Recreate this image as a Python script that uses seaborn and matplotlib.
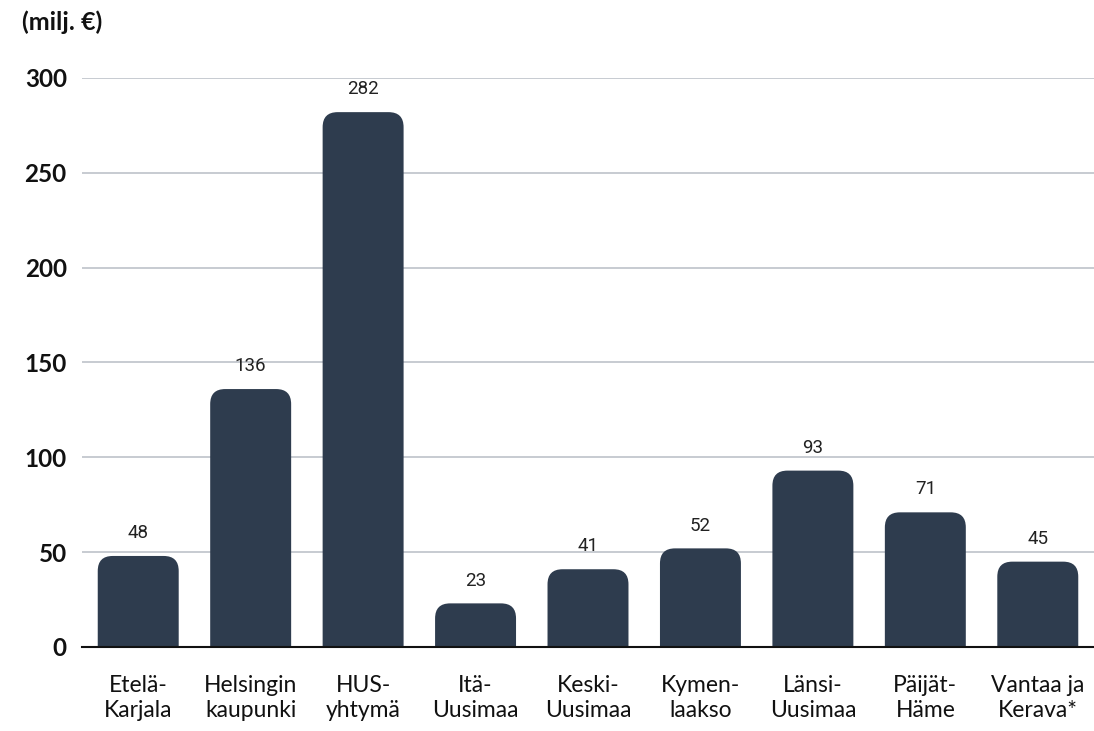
import matplotlib
matplotlib.use("Agg")
import matplotlib.pyplot as plt
from matplotlib.patches import FancyBboxPatch
import seaborn as sns
import pandas as pd

categories = ["Etelä-\nKarjala", "Helsingin\nkaupunki", "HUS-\nyhtymä", "Itä-\nUusimaa",
              "Keski-\nUusimaa", "Kymen-\nlaakso", "Länsi-\nUusimaa", "Päijät-\nHäme",
              "Vantaa ja\nKerava*"]
values = [48, 136, 282, 23, 41, 52, 93, 71, 45]
yticks = [0, 50, 100, 150, 200, 250, 300]
unit_label = "(milj. €)"

bar_color = "#2e3c4e"
grid_color = "#c3c7ce"

sns.set_theme(style="white")
plt.rcParams["font.family"] = ["Lato", "DejaVu Sans"]

df = pd.DataFrame({"cat": categories, "val": values})

fig = plt.figure(figsize=(10.94, 7.31), dpi=100)
ax = fig.add_axes([82 / 1094, 1 - 647 / 731, 1 - 82 / 1094, (647 - 78) / 731])

sns.barplot(data=df, x="cat", y="val", color=bar_color, width=0.72, ax=ax,
            saturation=1, zorder=3)

ax.set_ylim(0, 300)
ax.set_xlim(-0.5, 8.5)

# replace bars with top-rounded versions
fig.canvas.draw()
px_per_x = ax.bbox.width / (ax.get_xlim()[1] - ax.get_xlim()[0])
px_per_y = ax.bbox.height / (ax.get_ylim()[1] - ax.get_ylim()[0])
radius_px = 15
rx = radius_px / px_per_x
ry = radius_px / px_per_y
patches = list(ax.patches)
for p in patches:
    x0 = p.get_x()
    w = p.get_width()
    h = p.get_height()
    p.remove()
    fb = FancyBboxPatch((x0, -ry * 2), w, h + ry * 2,
                        boxstyle=f"round,pad=0,rounding_size={rx}",
                        mutation_aspect=ry / rx,
                        facecolor=bar_color, edgecolor="none", zorder=3)
    ax.add_patch(fb)
    ax.text(x0 + w / 2, h + 7.3, f"{int(h)}", ha="center", va="bottom",
            fontsize=13.5, family=["Roboto", "DejaVu Sans"], color="#222222")

ax.set_yticks(yticks)
ax.set_yticklabels([str(t) for t in yticks], fontsize=17.5, fontweight="bold", color="#111111")
ax.tick_params(axis="y", length=0, pad=11)
ax.tick_params(axis="x", length=0, pad=20, labelsize=16.5, colors="#111111")
for lbl in ax.get_xticklabels():
    lbl.set_linespacing(1.25)

ax.yaxis.grid(True, color=grid_color, linewidth=1.3, zorder=0)
ax.set_axisbelow(True)
for s in ["top", "right", "left"]:
    ax.spines[s].set_visible(False)
ax.spines["bottom"].set_color("#111111")
ax.spines["bottom"].set_linewidth(1.5)
ax.spines["bottom"].set_zorder(4)
ax.set_xlabel("")
ax.set_ylabel("")

fig.text(22 / 1094, 1 - 22 / 731, unit_label, ha="left", va="center",
         fontsize=18, fontweight="bold", color="#111111")

fig.savefig("out.png", dpi=100)
